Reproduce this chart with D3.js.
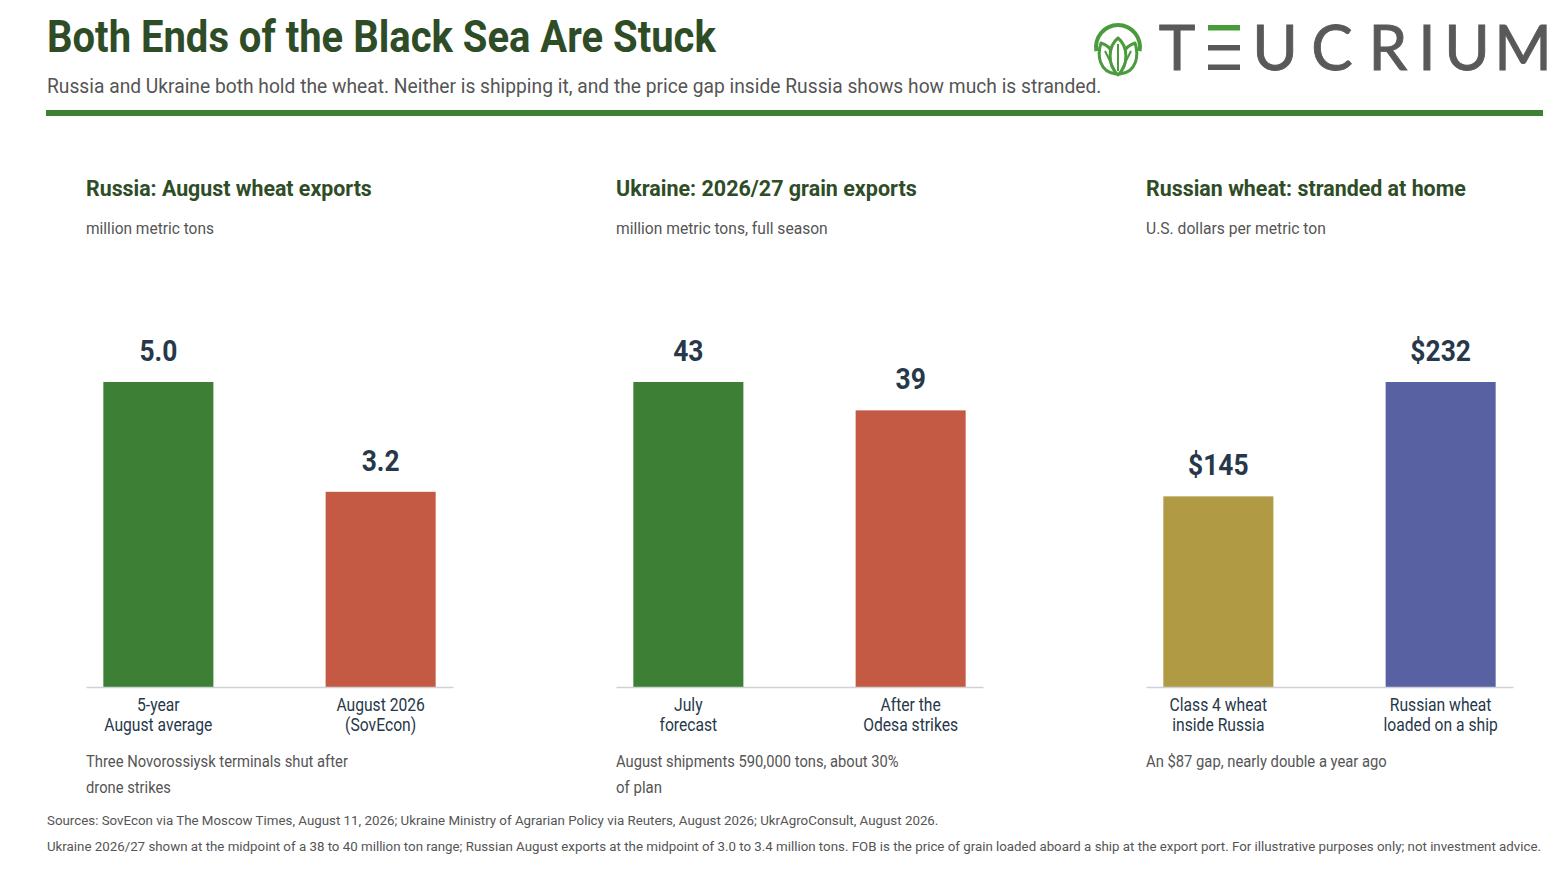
<!DOCTYPE html>
<html><head><meta charset="utf-8">
<script src="https://cdn.jsdelivr.net/npm/d3@7"></script>
<style>
body{margin:0;background:#fff}
svg{display:block;font-family:Roboto, "Noto Sans", sans-serif}
</style>
</head><body>
<svg id="chart" width="1560" height="876"></svg>
<script>
// ---------- data ----------
const chartTitle = "Both Ends of the Black Sea Are Stuck";
const chartSubtitle = "Russia and Ukraine both hold the wheat. Neither is shipping it, and the price gap inside Russia shows how much is stranded.";
const panelTitles = ["Russia: August wheat exports", "Ukraine: 2026/27 grain exports", "Russian wheat: stranded at home"];
const panelUnits = ["million metric tons", "million metric tons, full season", "U.S. dollars per metric ton"];
const russiaCategories = [["5-year", "August average"], ["August 2026", "(SovEcon)"]];
const ukraineCategories = [["July", "forecast"], ["After the", "Odesa strikes"]];
const priceCategories = [["Class 4 wheat", "inside Russia"], ["Russian wheat", "loaded on a ship"]];
const russiaExports = [5.0, 3.2];
const ukraineExports = [43, 39];
const wheatPrices = [145, 232];
const panelNotes = [
  ["Three Novorossiysk terminals shut after", "drone strikes"],
  ["August shipments 590,000 tons, about 30%", "of plan"],
  ["An $87 gap, nearly double a year ago"]
];
const footnotes = [
  "Sources: SovEcon via The Moscow Times, August 11, 2026; Ukraine Ministry of Agrarian Policy via Reuters, August 2026; UkrAgroConsult, August 2026.",
  "Ukraine 2026/27 shown at the midpoint of a 38 to 40 million ton range; Russian August exports at the midpoint of 3.0 to 3.4 million tons. FOB is the price of grain loaded aboard a ship at the export port. For illustrative purposes only; not investment advice."
];
const logoLetters = ["T", "U", "C", "R", "I", "U", "M"];

// ---------- styles ----------
const GREEN_DARK = "#2e4d27";
const GREEN_RULE = "#3b8132";
const TEXT_GREY = "#555555";
const VALUE_NAVY = "#27384a";
const panelColors = [["#3d7f35", "#c45a44"], ["#3d7f35", "#c45a44"], ["#b09a44", "#5862a3"]];
const valueFormats = [d3.format(".1f"), d3.format("d"), d => "$" + d3.format("d")(d)];
// measured widths of the reference's condensed lettering
const panelTitleWidths = [286, 301, 320];
const panelUnitWidths = [128, 212, 180];
const panelNoteWidths = [[262, 85], [283, 46], [241]];
const footnoteWidths = [892, 1496];

function condense(sel, f) {
  sel.each(function () {
    const w = this.getComputedTextLength();
    this.setAttribute("textLength", (w * f).toFixed(1));
    this.setAttribute("lengthAdjust", "spacingAndGlyphs");
  });
  return sel;
}
// left-anchored text squeezed horizontally to a measured width
function fitText(parent, x, y, w, str, attrs) {
  const t = parent.append("text").attr("x", 0).attr("y", 0);
  Object.entries(attrs).forEach(([k, v]) => t.attr(k, v));
  t.text(str);
  const nat = t.node().getComputedTextLength();
  t.attr("transform", `translate(${x},${y}) scale(${(w / nat).toFixed(4)},1)`);
  return t;
}

function draw() {
  const svg = d3.select("#chart");

  // Header
  fitText(svg, 47, 52, 669, chartTitle, {"font-size": 45, "font-weight": 700, "fill": GREEN_DARK});
  fitText(svg, 47, 93, 1055, chartSubtitle, {"font-size": 21, "fill": TEXT_GREY});
  svg.append("rect").attr("x", 46).attr("y", 110).attr("width", 1497).attr("height", 6).attr("fill", GREEN_RULE);

  // Logo
  const logo = svg.append("g");
  const icon = logo.append("g").attr("transform", "translate(1118,47)");
  const iconGreen = "#4a9b3c";
  icon.append("path")
    .attr("d", d3.arc()({innerRadius: 20, outerRadius: 24, startAngle: -0.56 * Math.PI, endAngle: 0.56 * Math.PI}))
    .attr("fill", iconGreen);
  const leafStyle = p => p.attr("fill", "#fff").attr("stroke", iconGreen).attr("stroke-width", 3).attr("stroke-linejoin", "round");
  leafStyle(icon.append("path").attr("d", "M-2,27 C-19,25 -21,8 -17,-4 C-6,-1 0,12 -2,27 Z"));
  leafStyle(icon.append("path").attr("d", "M2,27 C19,25 21,8 17,-4 C6,-1 0,12 2,27 Z"));
  leafStyle(icon.append("path").attr("d", "M0,28 C-11,18 -10,-1 0,-9 C10,-1 11,18 0,28 Z"));
  icon.append("path").attr("d", "M0,24 L0,-3 M-3,24 L-13,4 M3,24 L13,4")
    .attr("stroke", iconGreen).attr("stroke-width", 2).attr("fill", "none");

  const letterX = [1177, 1275, 1332, 1388, 1427, 1467, 1523];
  logo.selectAll("text.logo").data(logoLetters).join("text")
    .attr("class", "logo")
    .attr("x", (d, i) => letterX[i]).attr("y", 70)
    .attr("text-anchor", "middle")
    .attr("font-family", "Lato, 'Open Sans', sans-serif")
    .attr("font-size", 62).attr("font-weight", 400)
    .attr("fill", "#595959").attr("stroke", "#595959").attr("stroke-width", 0.9)
    .text(d => d);
  logo.append("rect").attr("x", 1208).attr("y", 25).attr("width", 32).attr("height", 5.5).attr("fill", "#4a9b3c");
  logo.append("rect").attr("x", 1208).attr("y", 45).attr("width", 32).attr("height", 5.5).attr("fill", "#595959");
  logo.append("rect").attr("x", 1208).attr("y", 64.5).attr("width", 32).attr("height", 5.5).attr("fill", "#595959");

  // Panels
  const panelData = [
    {values: russiaExports, cats: russiaCategories},
    {values: ukraineExports, cats: ukraineCategories},
    {values: wheatPrices, cats: priceCategories}
  ];
  const panelLeft = [86, 616, 1146];
  const panelW = 367;
  const baseY = 687, topY = 382;

  panelData.forEach((p, pi) => {
    const g = svg.append("g").attr("transform", `translate(${panelLeft[pi]},0)`);
    fitText(g, 0, 196, panelTitleWidths[pi], panelTitles[pi], {"font-size": 22.5, "font-weight": 700, "fill": GREEN_DARK});
    fitText(g, 0, 234, panelUnitWidths[pi], panelUnits[pi], {"font-size": 16.5, "fill": TEXT_GREY});

    const idx = p.values.map((d, i) => i);
    const x = d3.scaleBand().domain(idx).range([0, panelW]).paddingInner(0.505).paddingOuter(0.078);
    const y = d3.scaleLinear().domain([0, d3.max(p.values)]).range([baseY, topY]);

    g.selectAll("rect.bar").data(p.values).join("rect")
      .attr("class", "bar")
      .attr("x", (d, i) => x(i)).attr("width", x.bandwidth())
      .attr("y", d => y(d)).attr("height", d => baseY - y(d))
      .attr("fill", (d, i) => panelColors[pi][i]);

    // axis baseline
    const axis = g.append("g").attr("transform", `translate(0,${baseY})`)
      .call(d3.axisBottom(x).tickSize(0).tickFormat(""));
    axis.select(".domain").attr("stroke", "#cfd3d8").attr("stroke-width", 1.5);

    condense(g.selectAll("text.val").data(p.values).join("text")
      .attr("class", "val")
      .attr("x", (d, i) => x(i) + x.bandwidth() / 2)
      .attr("y", d => y(d) - 21)
      .attr("text-anchor", "middle")
      .attr("font-size", 29).attr("font-weight", 700).attr("fill", VALUE_NAVY)
      .text(d => valueFormats[pi](d)), 0.91);

    p.cats.forEach((lines, i) => {
      lines.forEach((ln, li) => {
        condense(g.append("text")
          .attr("x", x(i) + x.bandwidth() / 2)
          .attr("y", 711 + li * 20)
          .attr("text-anchor", "middle")
          .attr("font-size", 17.5).attr("fill", VALUE_NAVY)
          .text(ln), 0.895);
      });
    });

    panelNotes[pi].forEach((ln, li) => {
      fitText(g, 0, 767 + li * 26, panelNoteWidths[pi][li], ln, {"font-size": 16.5, "fill": TEXT_GREY});
    });
  });

  // Footnotes
  footnotes.forEach((ln, i) => {
    fitText(svg, 47, 825 + i * 26, footnoteWidths[i], ln, {"font-size": 13, "fill": TEXT_GREY});
  });
}

if (document.fonts && document.fonts.ready) {
  document.fonts.ready.then(draw);
} else {
  draw();
}
</script>
</body></html>
